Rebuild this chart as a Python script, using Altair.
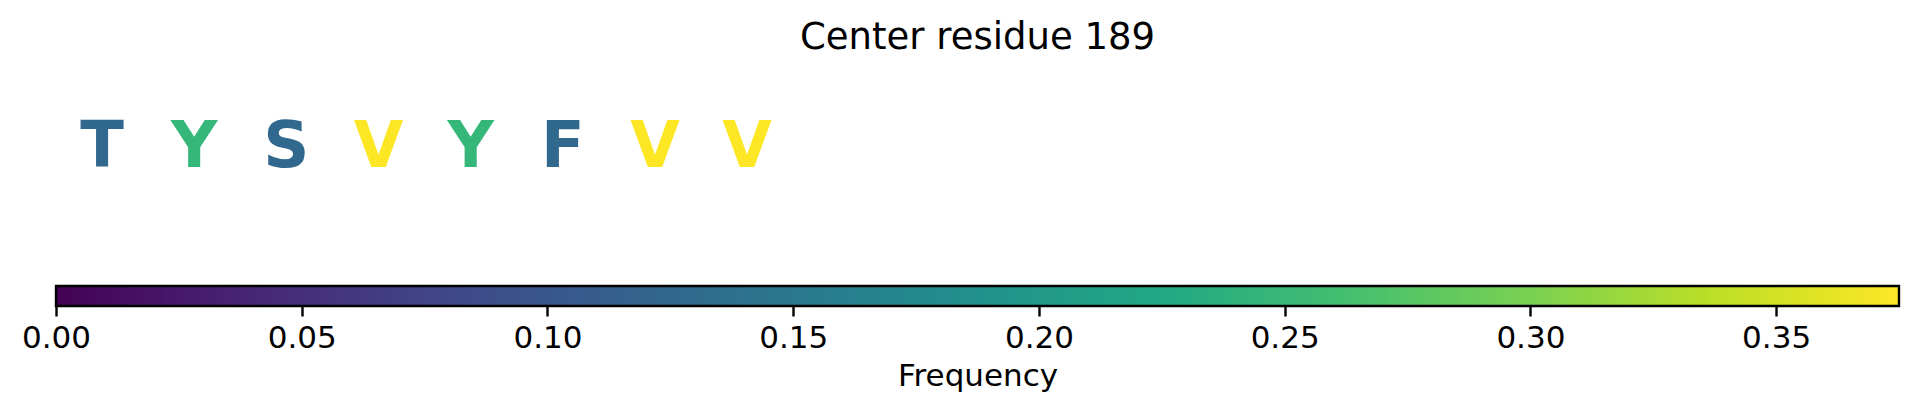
import altair as alt
import pandas as pd

# ---- data ----
residues = ["T", "Y", "S", "V", "Y", "F", "V", "V"]
frequencies = [0.125, 0.25, 0.125, 0.375, 0.25, 0.125, 0.375, 0.375]
slots = list(range(len(residues)))
title_text = "Center residue 189"
colorbar_ticks = [0.00, 0.05, 0.10, 0.15, 0.20, 0.25, 0.30, 0.35]
freq_domain = [0.0, 0.375]
slot_domain = [0, 20]

FONT = "DejaVu Sans"
W = 1843

df = pd.DataFrame({"residue": residues, "frequency": frequencies, "slot": slots})
cb_df = pd.DataFrame({"lo": [freq_domain[0]], "hi": [freq_domain[1]]})

viridis = ["#440154", "#482475", "#414487", "#355f8d", "#2a788e", "#21918c",
           "#22a884", "#44bf70", "#7ad151", "#bddf26", "#fde725"]
grad = alt.Gradient(
    gradient="linear",
    stops=[alt.GradientStop(color=c, offset=i / (len(viridis) - 1)) for i, c in enumerate(viridis)],
    x1=0, x2=1, y1=0, y2=0,
)

letters = alt.Chart(df).transform_calculate(
    xc="datum.slot + 0.5"
).mark_text(
    font=FONT, fontWeight="bold", fontSize=64, baseline="alphabetic", align="center"
).encode(
    x=alt.X("xc:Q", scale=alt.Scale(domain=slot_domain, nice=False, zero=False), axis=None),
    y=alt.YDatum(0.5, type="quantitative", scale=alt.Scale(domain=[0, 1]), axis=None),
    text="residue:N",
    color=alt.Color("frequency:Q",
                    scale=alt.Scale(scheme="viridis", domain=freq_domain),
                    legend=None),
).properties(
    width=W, height=194,
    title=alt.TitleParams(title_text, font=FONT, fontSize=37, fontWeight="normal",
                          offset=13, anchor="middle", color="black"),
)

colorbar = alt.Chart(cb_df).mark_rect(
    fill=grad, stroke="black", strokeWidth=2.4
).encode(
    x=alt.X("lo:Q", scale=alt.Scale(domain=freq_domain, nice=False, zero=False),
            axis=alt.Axis(values=colorbar_ticks, format=".2f", title="Frequency",
                          domain=False, grid=False, tickSize=10, tickWidth=2.4,
                          tickColor="black", labelFont=FONT, labelFontSize=31,
                          labelColor="black", labelPadding=7, labelFlush=False,
                          labelOverlap=False, titleFont=FONT, titleFontSize=31,
                          titleFontWeight="normal", titleColor="black",
                          titlePadding=8)),
    x2="hi:Q",
).properties(width=W, height=20)

chart = alt.vconcat(letters, colorbar, spacing=20).properties(
    padding={"left": 13, "top": 11, "right": 5, "bottom": 5},
    background="white",
).configure_view(stroke=None)

chart.save("out.html", embed_options={"renderer": "svg", "actions": False})
